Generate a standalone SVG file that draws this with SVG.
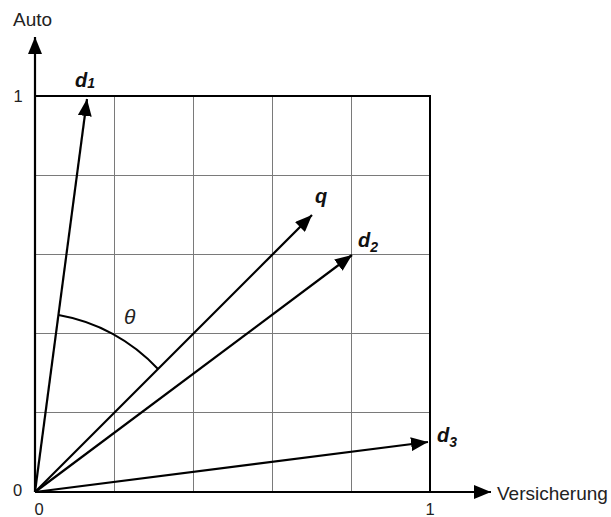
<svg xmlns="http://www.w3.org/2000/svg" width="611" height="517" viewBox="0 0 611 517">
<defs>
<marker id="ah" markerUnits="userSpaceOnUse" markerWidth="18" markerHeight="14" refX="17" refY="7" orient="auto">
<path d="M0,0 L17,7 L0,14 z" fill="#000"/>
</marker>
</defs>
<style>
.grid{stroke:#7a7a7a;stroke-width:1;fill:none}
.frame{stroke:#000;stroke-width:2;fill:none}
.vec{stroke:#000;stroke-width:2.2;fill:none;marker-end:url(#ah)}
.lbl{font-family:"Liberation Sans",Arial,sans-serif;font-size:19px;fill:#222}
.num{font-family:"Liberation Sans",Arial,sans-serif;font-size:16.5px;fill:#222;text-anchor:middle}
.vl{font-family:"Liberation Sans",Arial,sans-serif;font-size:20px;font-weight:bold;font-style:italic;fill:#111}
.sub{font-size:14px}
</style>
<g id="grid">
<path class="grid" d="M114.5,96 V492 M193.5,96 V492 M272.5,96 V492 M351.5,96 V492 M35,175.5 H430 M35,254.5 H430 M35,333.5 H430 M35,412.5 H430"/>
<path class="frame" d="M35,96 H430 V492"/>
</g>
<g id="connectors">
<line id="y-axis" class="vec" x1="35" y1="492" x2="35" y2="37"/>
<line id="x-axis" class="vec" x1="35" y1="492" x2="491" y2="492"/>
<line id="v-d1" class="vec" x1="35" y1="492" x2="87" y2="99"/>
<line id="v-q" class="vec" x1="35" y1="492" x2="312" y2="215"/>
<line id="v-d2" class="vec" x1="35" y1="492" x2="352" y2="255"/>
<line id="v-d3" class="vec" x1="35" y1="492" x2="428" y2="442"/>
<path id="theta-arc" d="M58.5,315 A177,177 0 0 1 158,369" stroke="#000" stroke-width="2" fill="none"/>
</g>
<g id="labels">
<text class="lbl" x="13" y="26">Auto</text>
<text class="lbl" x="497" y="500">Versicherung</text>
<text class="num" x="18" y="102">1</text>
<text class="num" x="17.5" y="496">0</text>
<text class="num" x="39" y="515">0</text>
<text class="num" x="430" y="515">1</text>
<text class="lbl" x="124" y="324" style="font-style:italic;font-size:21px">θ</text>
</g>
<g id="d1"><text class="vl" x="75" y="87">d<tspan class="sub" dy="1">1</tspan></text></g>
<g id="q"><text class="vl" x="315" y="203">q</text></g>
<g id="d2"><text class="vl" x="358" y="247">d<tspan class="sub" dy="5">2</tspan></text></g>
<g id="d3"><text class="vl" x="437" y="442">d<tspan class="sub" dy="5">3</tspan></text></g>
</svg>
